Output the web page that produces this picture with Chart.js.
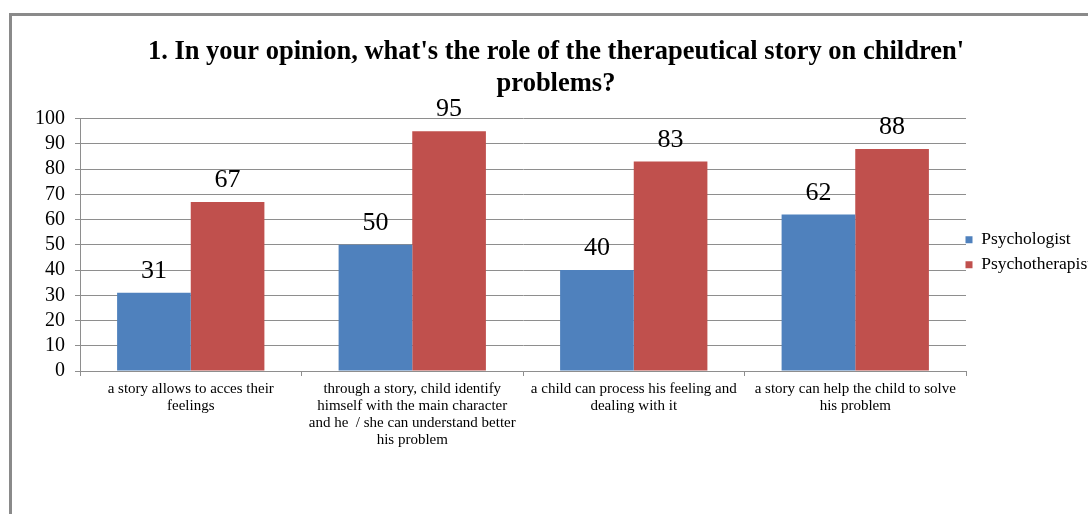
<!DOCTYPE html>
<html>
<head>
<meta charset="utf-8">
<script src="https://cdn.jsdelivr.net/npm/chart.js@4/dist/chart.umd.min.js"></script>
<style>
  html, body { margin: 0; padding: 0; background: #fff; overflow: hidden; }
  #frame { position: absolute; left: 9px; top: 13px; width: 1200px; height: 600px;
           border-left: 3px solid #8a8a8a; border-top: 3px solid #8a8a8a; }
  #wrap { position: absolute; left: 0; top: 0; width: 1088px; height: 514px; }
</style>
</head>
<body>
<div id="frame"></div>
<div id="wrap"><canvas id="c"></canvas></div>
<script>
const titleLines = ["1. In your opinion, what's the role of the therapeutical story on children'", "problems?"];
const categories = [
  ["a story allows to acces their", "feelings"],
  ["through a story, child identify", "himself with the main character", "and he  / she can understand better", "his problem"],
  ["a child can process his feeling and", "dealing with it"],
  ["a story can help the child to solve", "his problem"]
];
const seriesNames = ["Psychologist", "Psychotherapist"];
const psychologist = [31, 50, 40, 62];
const psychotherapist = [67, 95, 83, 88];
const yTicks = [0, 10, 20, 30, 40, 50, 60, 70, 80, 90, 100];

const SERIF = "'Liberation Serif', 'Times New Roman', serif";
const GRID = '#8e8e8e';

const valueLabels = {
  id: 'valueLabels',
  afterDatasetsDraw(chart) {
    const ctx = chart.ctx;
    ctx.save();
    ctx.font = '26px ' + SERIF;
    ctx.fillStyle = '#000';
    ctx.textAlign = 'center';
    ctx.textBaseline = 'alphabetic';
    chart.data.datasets.forEach((ds, i) => {
      const meta = chart.getDatasetMeta(i);
      meta.data.forEach((el, j) => {
        ctx.fillText(String(ds.data[j]), el.x, el.y - 15);
      });
    });
    ctx.restore();
  }
};

const legendShift = {
  id: 'legendShift',
  afterLayout(chart) {
    const lg = chart.legend;
    if (lg) { lg.left -= 8; lg.right += 20; lg.width = lg.right - lg.left; }
  }
};

new Chart(document.getElementById('c'), {
  type: 'bar',
  data: {
    labels: categories,
    datasets: [
      { label: seriesNames[0], data: psychologist, backgroundColor: '#4F81BD', borderWidth: 0 },
      { label: seriesNames[1], data: psychotherapist, backgroundColor: '#C0504D', borderWidth: 0 }
    ]
  },
  options: {
    responsive: true,
    maintainAspectRatio: false,
    animation: false,
    layout: { padding: { left: 24, right: 0, top: 0, bottom: 0 } },
    categoryPercentage: 0.665,
    barPercentage: 1,
    plugins: {
      title: {
        display: true,
        text: titleLines,
        color: '#000',
        font: { family: SERIF, size: 26.5, weight: 'bold', lineHeight: 1.2 },
        padding: { top: 36, bottom: 19 }
      },
      legend: {
        position: 'right',
        fullSize: false,
        maxWidth: 122,
        title: { display: true, text: '', font: { size: 12, lineHeight: 1.25 }, padding: 0 },
        labels: {
          boxWidth: 7,
          boxHeight: 7,
          padding: 7.5,
          color: '#000',
          font: { family: SERIF, size: 17.5 }
        }
      },
      tooltip: { enabled: false }
    },
    scales: {
      x: {
        grid: { display: true, drawOnChartArea: false, drawTicks: true, tickLength: 5, color: GRID },
        border: { display: true, color: GRID },
        ticks: { color: '#000', font: { family: SERIF, size: 15, lineHeight: 1.133 }, padding: 5, maxRotation: 0, autoSkip: false },
        afterFit(scale) { scale.height = 143; }
      },
      y: {
        min: 0, max: 100,
        afterBuildTicks(scale) { scale.ticks = yTicks.map(v => ({ value: v })); },
        grid: { color: GRID, tickLength: 5, drawTicks: true },
        border: { display: true, color: GRID },
        ticks: { color: '#000', font: { family: SERIF, size: 20 }, padding: 10, autoSkip: false },
        afterFit(scale) { scale.width = 56; }
      }
    }
  },
  plugins: [valueLabels, legendShift]
});
</script>
</body>
</html>
